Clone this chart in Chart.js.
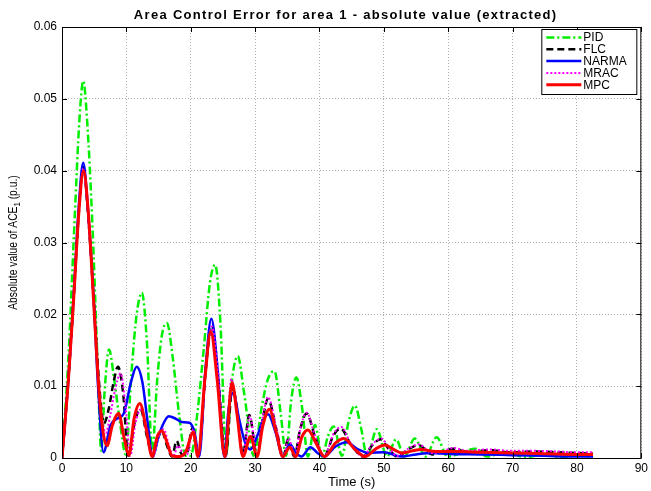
<!DOCTYPE html>
<html>
<head>
<meta charset="utf-8">
<script src="https://cdn.jsdelivr.net/npm/chart.js@4.4.0/dist/chart.umd.min.js"></script>
<style>
  html, body { margin: 0; padding: 0; background: #fff; }
</style>
</head>
<body>
<canvas id="ace" width="651" height="491"></canvas>
<script>
// |ACE1| (p.u.) against time (s), one pair of arrays per controller
const tPID = [0, 1, 2, 2.7, 3.3, 3.9, 4.7, 5.5, 6.1, 6.6, 7.3, 8.1, 9.0, 9.9, 10.8, 11.6, 12.4, 13.2, 14.0, 14.8, 15.5, 16.3, 17.2, 18.2, 19.2, 20.0, 21.0, 22.0, 23.0, 23.8, 24.6, 25.5, 26.3, 27.3, 28.3, 29.8, 31, 32, 33, 34, 34.8, 35.6, 36.4, 37.3, 38.2, 39.3, 40.4, 41.3, 42.2, 43.5, 44.5, 45.5, 46.5, 47.4, 48.9, 50.5, 51.9, 53.2, 54.8, 56.5, 58.2, 59.9, 62, 64.2, 66, 69, 72, 75, 77.5, 80, 82.5];
const acePID = [0, 0.014, 0.034, 0.047, 0.0525, 0.047, 0.033, 0.014, 0.001, 0.009, 0.0151, 0.011, 0.005, 0.0005, 0.012, 0.020, 0.023, 0.016, 0.001, 0.011, 0.017, 0.0188, 0.014, 0.006, 0.0003, 0.0003, 0.006, 0.015, 0.0245, 0.0269, 0.019, 0.0005, 0.010, 0.0142, 0.009, 0.0003, 0.007, 0.011, 0.0121, 0.006, 0.0003, 0.008, 0.0112, 0.007, 0.0002, 0.0046, 0.0002, 0.003, 0.0044, 0.0003, 0.005, 0.0073, 0.004, 0.0002, 0.004, 0.0002, 0.0026, 0.0002, 0.0027, 0.0002, 0.0029, 0.0002, 0.0007, 0.0013, 0.0002, 0.0008, 0.0001, 0.0005, 0.0001, 0.0004, 0.0001];

const tFLC = [0, 1, 1.8, 2.6, 3.3, 4.0, 4.9, 5.8, 6.5, 7.3, 8.0, 8.7, 9.5, 10.3, 11.3, 12.2, 13.2, 14.1, 14.8, 15.5, 16.4, 17.1, 17.8, 18.6, 19.3, 20.3, 21.2, 22.3, 23.3, 24.2, 25.4, 26.5, 27.3, 28.1, 29.1, 30.3, 31.2, 32.0, 33.3, 34.4, 35.1, 36.1, 37.0, 38.0, 39.3, 40.7, 42.2, 43.3, 44.8, 46.8, 48.2, 49.5, 50.8, 52.1, 53.8, 55.4, 57.5, 59.0, 60.8, 63, 66.4, 69.5, 73, 77, 80, 82.5];
const aceFLC = [0, 0.011, 0.022, 0.034, 0.0405, 0.0345, 0.0225, 0.010, 0.0048, 0.007, 0.0105, 0.0127, 0.009, 0.0003, 0.005, 0.0068, 0.003, 0.0002, 0.0025, 0.0037, 0.0015, 0.0002, 0.0024, 0.0005, 0.0004, 0.0042, 0.0002, 0.012, 0.0185, 0.012, 0.0002, 0.0100, 0.006, 0.0005, 0.006, 0.0003, 0.0055, 0.0082, 0.004, 0.0002, 0.0026, 0.0002, 0.004, 0.0062, 0.003, 0.0002, 0.0032, 0.0041, 0.002, 0.0002, 0.0018, 0.0026, 0.0012, 0.0002, 0.0012, 0.0018, 0.0005, 0.0008, 0.0013, 0.0008, 0.0011, 0.0008, 0.0009, 0.0008, 0.0007, 0.0006];

const tNARMA = [0, 1, 1.8, 2.6, 3.3, 4.0, 4.9, 5.6, 6.45, 7.5, 8.6, 9.6, 10.7, 11.6, 12.5, 13.3, 14.1, 15.0, 15.6, 16.6, 17.6, 18.6, 19.8, 20.6, 21.3, 22.3, 23.2, 24.2, 25.2, 25.9, 26.6, 27.5, 28.5, 29.3, 30.3, 31.2, 32.0, 33.2, 34.3, 35.4, 36.3, 37.2, 38.6, 39.7, 40.7, 42.5, 44.2, 46.0, 47.6, 50, 52.7, 55, 57.5, 60, 65, 70, 75, 80, 82.5];
const aceNARMA = [0, 0.011, 0.0225, 0.035, 0.0411, 0.035, 0.0225, 0.010, 0.0008, 0.0045, 0.0055, 0.0062, 0.0105, 0.0127, 0.0105, 0.005, 0.0002, 0.003, 0.0045, 0.0058, 0.0055, 0.005, 0.0049, 0.0035, 0.0002, 0.0125, 0.0194, 0.012, 0.0002, 0.007, 0.0091, 0.0055, 0.002, 0.0012, 0.003, 0.0052, 0.0061, 0.0035, 0.0002, 0.0019, 0.0008, 0.0002, 0.0015, 0.0007, 0.0002, 0.0016, 0.0022, 0.0012, 0.0007, 0.0008, 0.0002, 0.0005, 0.0007, 0.00055, 0.0005, 0.0004, 0.0003, 0.0002, 0.0002];

const tMRAC = [0, 1, 1.8, 2.6, 3.3, 4.0, 4.9, 5.8, 6.8, 7.5, 8.3, 9.1, 9.9, 10.6, 11.4, 12.3, 13.2, 14.1, 15.0, 15.8, 16.6, 17.3, 18.0, 18.7, 19.4, 20.4, 21.2, 22.3, 23.3, 24.2, 25.4, 26.3, 27.2, 28.1, 29.2, 30.3, 31.2, 32.0, 33.3, 34.4, 35.2, 36.2, 37.0, 38.0, 39.3, 40.7, 42.2, 43.4, 44.8, 46.8, 48.2, 49.6, 50.9, 52.1, 53.8, 55.4, 57.5, 59.0, 60.8, 63, 66.4, 69.5, 73, 77, 80, 82.5];
const aceMRAC = [0, 0.011, 0.022, 0.034, 0.0403, 0.0343, 0.0222, 0.009, 0.0035, 0.006, 0.0097, 0.0118, 0.007, 0.0003, 0.0048, 0.0068, 0.0032, 0.0002, 0.003, 0.004, 0.0018, 0.0002, 0.0017, 0.0008, 0.0005, 0.004, 0.0002, 0.0118, 0.0183, 0.012, 0.0002, 0.0110, 0.006, 0.0005, 0.0058, 0.0003, 0.0058, 0.0085, 0.0042, 0.0002, 0.0027, 0.0002, 0.004, 0.0063, 0.0031, 0.0002, 0.0034, 0.0043, 0.0021, 0.0002, 0.0019, 0.0027, 0.0013, 0.0003, 0.0013, 0.0019, 0.0007, 0.0009, 0.0014, 0.001, 0.0012, 0.001, 0.001, 0.0009, 0.0008, 0.0008];

const tMPC = [0, 1, 1.8, 2.6, 3.35, 4.1, 4.9, 5.7, 6.4, 7.0, 7.8, 8.8, 9.6, 10.4, 11.2, 12.1, 13.1, 14.0, 14.8, 15.5, 16.3, 17.1, 18.2, 19.2, 20.4, 21.1, 22.2, 23.1, 24.1, 25.3, 26.4, 27.2, 28.1, 29.3, 30.3, 31.2, 32.2, 33.3, 34.3, 35.4, 36.3, 37.3, 38.2, 39.5, 40.8, 42.5, 43.8, 45.5, 47.1, 48.8, 50.2, 51.5, 52.8, 55.7, 58, 61, 65, 70, 75, 80, 82.5];
const aceMPC = [0, 0.011, 0.022, 0.034, 0.0400, 0.034, 0.022, 0.010, 0.0035, 0.0017, 0.0045, 0.0062, 0.003, 0.0004, 0.0055, 0.0076, 0.004, 0.0002, 0.003, 0.0038, 0.0022, 0.0003, 0.0002, 0.0008, 0.0036, 0.0002, 0.011, 0.0176, 0.011, 0.0002, 0.0105, 0.006, 0.0002, 0.003, 0.0002, 0.0045, 0.0068, 0.0035, 0.0002, 0.0015, 0.0002, 0.003, 0.0039, 0.002, 0.0002, 0.0021, 0.0027, 0.0012, 0.0002, 0.0013, 0.0018, 0.0012, 0.0007, 0.0012, 0.0009, 0.0009, 0.0008, 0.0007, 0.0006, 0.0005, 0.0005];

const xTickValues = [0, 10, 20, 30, 40, 50, 60, 70, 80, 90];
const yTickValues = [0, 0.01, 0.02, 0.03, 0.04, 0.05, 0.06];
const yTickLabels = ['0', '0.01', '0.02', '0.03', '0.04', '0.05', '0.06'];

const FONT = '"Liberation Sans", Arial, Helvetica, sans-serif';
const TITLE = 'Area Control Error for area 1 - absolute value (extracted)';

function pts(t, v) {
    return t.map(function(x, i) { return { x: x, y: v[i] }; });
}

// MATLAB-style frame: closed box, inward ticks, boxed legend, title and a y label with subscript
const matlabAxes = {
    id: 'matlabAxes',
    afterDatasetsDraw: function(chart) {
        const ctx = chart.ctx, a = chart.chartArea;
        const xs = chart.scales.x, ys = chart.scales.y;
        ctx.save();
        ctx.strokeStyle = '#000';
        ctx.lineWidth = 1;
        ctx.setLineDash([]);
        ctx.beginPath();
        xTickValues.forEach(function(v) {
            const p = Math.round(xs.getPixelForValue(v)) + 0.5;
            ctx.moveTo(p, a.bottom); ctx.lineTo(p, a.bottom - 5);
            ctx.moveTo(p, a.top); ctx.lineTo(p, a.top + 5);
        });
        yTickValues.forEach(function(v) {
            const p = Math.round(ys.getPixelForValue(v)) + 0.5;
            ctx.moveTo(a.left, p); ctx.lineTo(a.left + 5, p);
            ctx.moveTo(a.right, p); ctx.lineTo(a.right - 5, p);
        });
        ctx.stroke();
        ctx.strokeRect(a.left + 0.5, a.top + 0.5, a.right - a.left - 1, a.bottom - a.top);
        ctx.restore();
    },
    afterDraw: function(chart) {
        const ctx = chart.ctx, a = chart.chartArea;
        const sets = chart.data.datasets;

        // title, centred over the axes
        ctx.save();
        ctx.fillStyle = '#000';
        ctx.font = 'bold 13px ' + FONT;
        ctx.letterSpacing = '1.3px';
        ctx.textAlign = 'center';
        ctx.textBaseline = 'middle';
        ctx.fillText(TITLE, (a.left + a.right) / 2 - 6, 15);
        ctx.restore();

        // legend
        const w = 95, rowH = 11.8;
        const x0 = a.right - w - 5, y0 = a.top + 2;
        const h = sets.length * rowH + 6;
        ctx.save();
        ctx.fillStyle = '#fff';
        ctx.fillRect(x0, y0, w, h);
        ctx.strokeStyle = '#000';
        ctx.lineWidth = 1;
        ctx.strokeRect(x0 + 0.5, y0 + 0.5, w, h);
        ctx.font = '12px ' + FONT;
        ctx.textBaseline = 'middle';
        sets.forEach(function(ds, i) {
            const y = y0 + 8.5 + i * rowH;
            ctx.strokeStyle = ds.borderColor;
            ctx.lineWidth = ds.borderWidth;
            ctx.setLineDash(ds.borderDash || []);
            ctx.beginPath();
            ctx.moveTo(x0 + 5, y);
            ctx.lineTo(x0 + 40, y);
            ctx.stroke();
            ctx.fillStyle = '#000';
            ctx.fillText(ds.label, x0 + 42, y + 0.5);
        });
        ctx.restore();

        // y axis title
        const main = 'Absolute value of ACE', sub = '1', tail = ' (p.u.)';
        ctx.save();
        ctx.translate(13.5, (a.top + a.bottom) / 2);
        ctx.rotate(-Math.PI / 2);
        ctx.scale(0.86, 1);
        ctx.fillStyle = '#000';
        ctx.textBaseline = 'middle';
        ctx.font = '12px ' + FONT;
        const wMain = ctx.measureText(main).width, wTail = ctx.measureText(tail).width;
        ctx.font = '9px ' + FONT;
        const wSub = ctx.measureText(sub).width;
        let x = -(wMain + wSub + wTail) / 2;
        ctx.font = '12px ' + FONT;
        ctx.fillText(main, x, 0);
        x += wMain;
        ctx.font = '9px ' + FONT;
        ctx.fillText(sub, x, 4);
        x += wSub;
        ctx.font = '12px ' + FONT;
        ctx.fillText(tail, x, 0);
        ctx.restore();
    }
};

const common = { pointRadius: 0, fill: false, cubicInterpolationMode: 'monotone', borderJoinStyle: 'round' };

new Chart(document.getElementById('ace'), {
    type: 'line',
    data: {
        datasets: [
            Object.assign({ label: 'PID', data: pts(tPID, acePID), borderColor: '#00ee00', borderWidth: 2.5, borderDash: [8, 3, 2, 3], order: 5 }, common),
            Object.assign({ label: 'FLC', data: pts(tFLC, aceFLC), borderColor: '#000000', borderWidth: 2.5, borderDash: [7, 4], order: 4 }, common),
            Object.assign({ label: 'NARMA', data: pts(tNARMA, aceNARMA), borderColor: '#0000ff', borderWidth: 2.5, order: 3 }, common),
            Object.assign({ label: 'MRAC', data: pts(tMRAC, aceMRAC), borderColor: '#ff00ff', borderWidth: 2, borderDash: [2, 2], order: 2 }, common),
            Object.assign({ label: 'MPC', data: pts(tMPC, aceMPC), borderColor: '#ff0000', borderWidth: 3, order: 1 }, common)
        ]
    },
    options: {
        responsive: false,
        animation: false,
        events: [],
        layout: { padding: { left: 0, right: 9, top: 27, bottom: 0 } },
        plugins: {
            legend: { display: false },
            tooltip: { enabled: false },
            title: { display: false }
        },
        scales: {
            x: {
                type: 'linear',
                min: 0,
                max: 90,
                afterBuildTicks: function(s) { s.ticks = xTickValues.map(function(v) { return { value: v }; }); },
                afterFit: function(s) { s.height = 33; },
                ticks: { color: '#000', font: { family: FONT, size: 12 }, padding: 3, maxRotation: 0 },
                grid: { color: '#b0b0b0', lineWidth: 1, drawTicks: false },
                border: { display: false, dash: [1, 2] },
                title: { display: true, text: 'Time (s)', color: '#000', font: { family: FONT, size: 13 }, padding: { top: 0, bottom: 1 } }
            },
            y: {
                type: 'linear',
                min: 0,
                max: 0.06,
                afterBuildTicks: function(s) { s.ticks = yTickValues.map(function(v) { return { value: v }; }); },
                afterFit: function(s) { s.width = 62; },
                ticks: {
                    color: '#000',
                    font: { family: FONT, size: 12 },
                    padding: 5,
                    callback: function(v) { return yTickLabels[yTickValues.indexOf(+v.toFixed(2))]; }
                },
                grid: { color: '#b0b0b0', lineWidth: 1, drawTicks: false },
                border: { display: false, dash: [1, 2] }
            }
        }
    },
    plugins: [matlabAxes]
});
</script>
</body>
</html>
